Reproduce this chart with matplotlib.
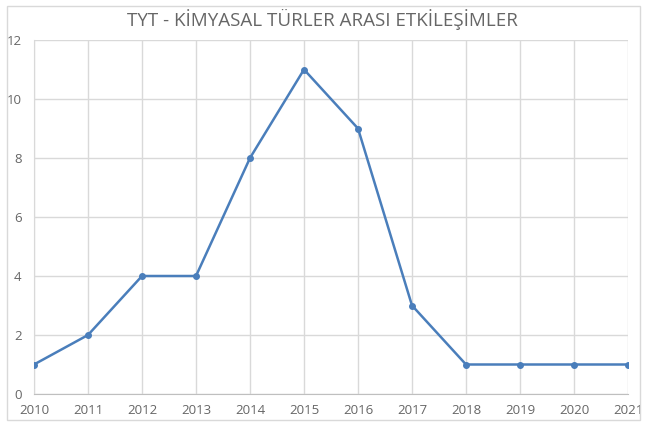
import matplotlib
matplotlib.use("Agg")
import matplotlib.pyplot as plt
from matplotlib.patches import FancyBboxPatch

years = [2010, 2011, 2012, 2013, 2014, 2015, 2016, 2017, 2018, 2019, 2020, 2021]
counts = [1, 2, 4, 4, 8, 11, 9, 3, 1, 1, 1, 1]
yticks = [0, 2, 4, 6, 8, 10, 12]
title = "TYT - KİMYASAL TÜRLER ARASI ETKİLEŞİMLER"

plt.rcParams['font.family'] = ['Open Sans', 'DejaVu Sans']

fig = plt.figure(figsize=(6.45, 4.26), dpi=100)
# outer chart border
fig.patches.append(FancyBboxPatch((7/645, 6/426), 633/645, 414/426,
                                  boxstyle="square,pad=0", transform=fig.transFigure,
                                  fill=False, edgecolor="#d9d9d9", linewidth=1))

ax = fig.add_axes([34/645, 32/426, 594/645, 354/426])
ax.plot(years, counts, color="#4a7ebb", linewidth=1.8, marker="o", markersize=4, zorder=3)

ax.set_xlim(2010, 2021)
ax.set_ylim(0, 12)
ax.set_xticks(years)
ax.set_yticks(yticks)
ax.grid(True, color="#d9d9d9", linewidth=1)
ax.set_axisbelow(True)
for s in ["top", "right"]:
    ax.spines[s].set_visible(False)
ax.spines["left"].set_color("#d9d9d9")
ax.spines["bottom"].set_color("#bfbfbf")
ax.tick_params(length=0, labelsize=9.5, colors="#666666")
ax.tick_params(axis="x", pad=7)
ax.tick_params(axis="y", pad=9)

fig.text(0.5, 0.955, title, ha="center", va="center", fontsize=13.5, color="#666666")

fig.savefig("out.png", dpi=100)
